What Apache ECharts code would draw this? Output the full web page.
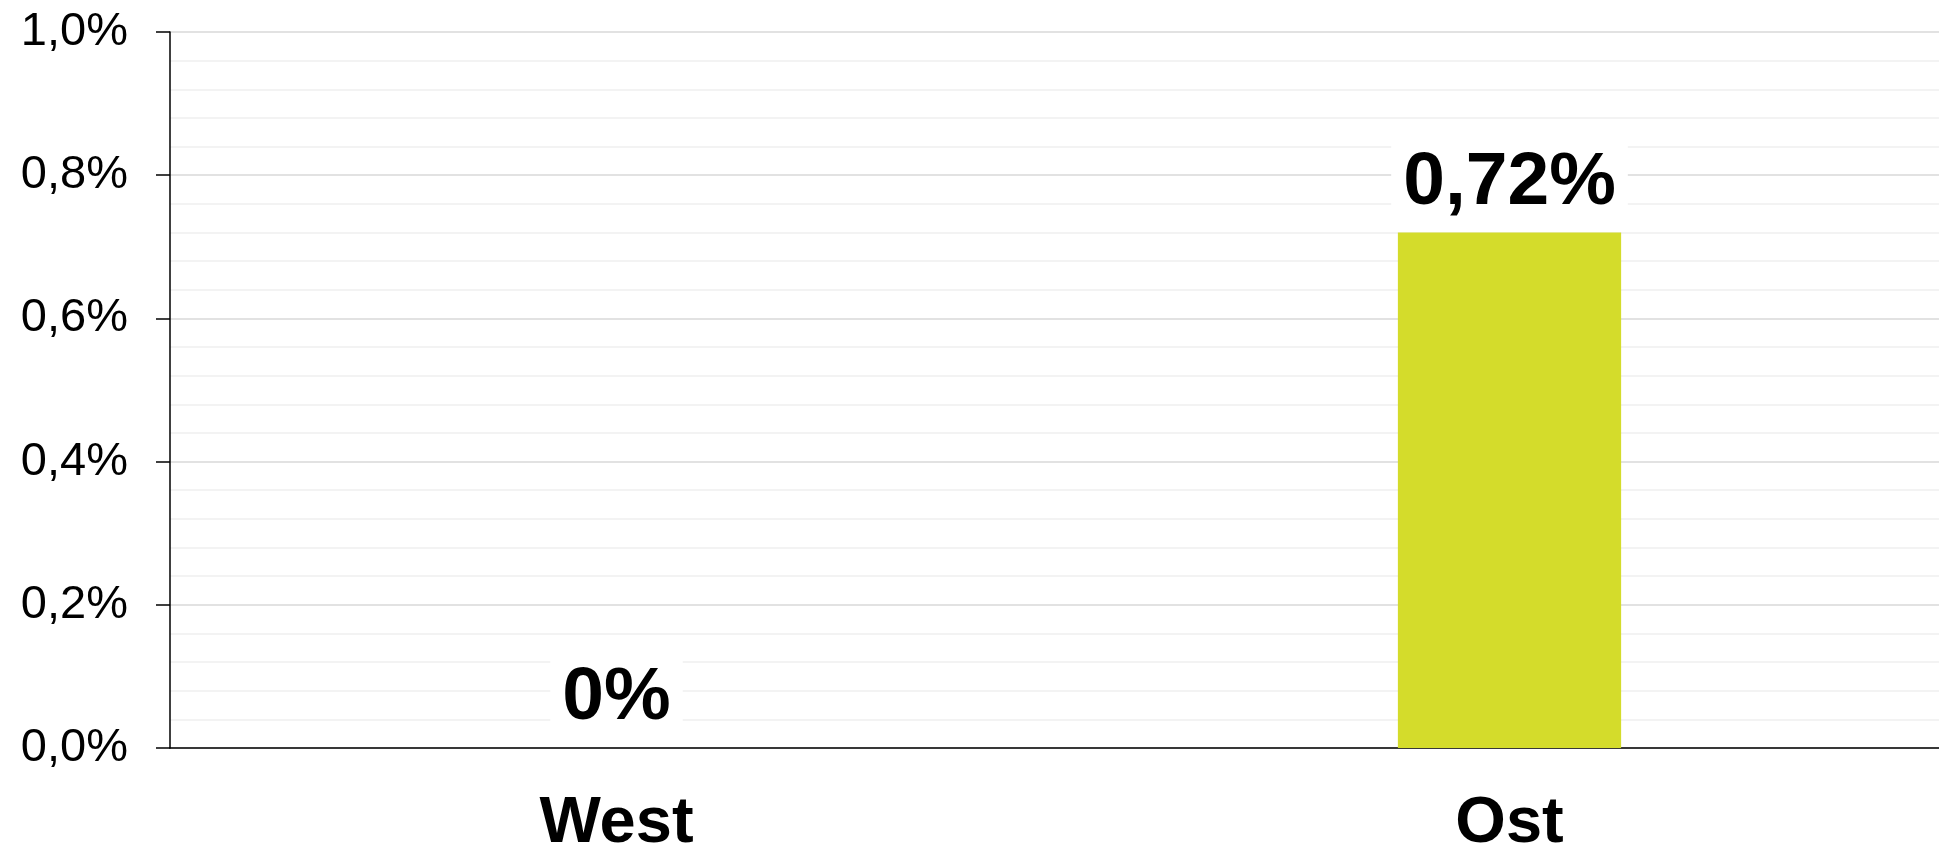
<!DOCTYPE html>
<html>
<head>
<meta charset="utf-8">
<script src="https://cdn.jsdelivr.net/npm/echarts@6/dist/echarts.min.js"></script>
<style>
html,body{margin:0;padding:0;background:#fff;}
#chart{width:1939px;height:852px;}
</style>
</head>
<body>
<div id="chart"></div>
<script>
const categories = ['West', 'Ost'];
const values = [0, 0.72];          // percent
const yMin = 0, yMax = 1.0, yStep = 0.2;

function fmtComma(v, d) { return v.toFixed(d).replace('.', ','); }

const chart = echarts.init(document.getElementById('chart'));
chart.setOption({
  animation: false,
  backgroundColor: '#ffffff',
  textStyle: { fontFamily: 'Liberation Sans, Arial, sans-serif' },
  grid: { left: 170, top: 32, bottom: 104, width: 1786, containLabel: false, outerBoundsMode: 'none' },
  xAxis: {
    type: 'category',
    data: categories,
    axisLine: { show: true, lineStyle: { color: '#000', width: 1.5 } },
    axisTick: { show: false },
    axisLabel: {
      color: '#000', fontSize: 65, fontWeight: 'bold', lineHeight: 65, margin: 44,
      fontFamily: 'Liberation Sans, Arial, sans-serif'
    },
    splitLine: { show: false }
  },
  yAxis: {
    type: 'value',
    min: yMin, max: yMax, interval: yStep,
    axisLine: { show: true, lineStyle: { color: '#000', width: 1.5 } },
    axisTick: { show: true, inside: false, length: 14, lineStyle: { color: '#000', width: 1.5 } },
    axisLabel: {
      color: '#000', fontSize: 47, margin: 42,
      fontFamily: 'Liberation Sans, Arial, sans-serif',
      formatter: v => fmtComma(v, 1) + '%'
    },
    splitLine: { show: true, lineStyle: { color: '#d9d9d9', width: 1.5 } },
    minorTick: { show: false, splitNumber: 5 },
    minorSplitLine: { show: true, lineStyle: { color: '#f0f0f0', width: 1.5 } }
  },
  series: [{
    type: 'bar',
    data: values,
    barWidth: '25%',
    itemStyle: { color: '#d4dc2b' },
    label: {
      show: true,
      position: 'top',
      distance: 8,
      color: '#000',
      fontSize: 75,
      fontWeight: 'bold',
      lineHeight: 75,
      fontFamily: 'Liberation Sans, Arial, sans-serif',
      backgroundColor: '#ffffff',
      padding: [4, 12],
      formatter: p => p.value === 0 ? '0%' : fmtComma(p.value, 2) + '%'
    }
  }]
});
</script>
</body>
</html>
